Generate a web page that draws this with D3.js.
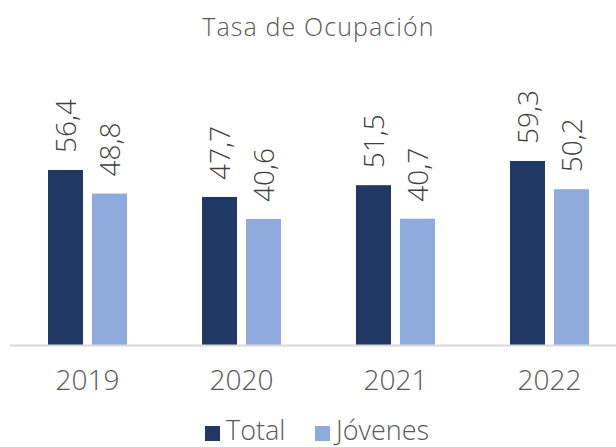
<!DOCTYPE html>
<html><head><meta charset="utf-8">
<script src="https://cdn.jsdelivr.net/npm/d3@7"></script>
<style>
html,body{margin:0;padding:0;background:#fff;}
svg{display:block;font-family:"Open Sans","Noto Sans",sans-serif;font-weight:300;}
</style></head>
<body><svg id="c" width="616" height="447"></svg>
<script>
const years = ["2019","2020","2021","2022"];
const seriesNames = ["Total","Jóvenes"];
const totalValues = [56.4, 47.7, 51.5, 59.3];
const jovenesValues = [48.8, 40.6, 40.7, 50.2];
const colors = ["#203864","#8FAADC"];
const title = "Tasa de Ocupación";

const svg = d3.select("#c");
const baseY = 345;
const x = d3.scaleBand().domain(years).range([10.5, 626.5]).paddingInner(0).paddingOuter(0);
const inner = d3.scaleBand().domain(seriesNames).range([0, 79]).paddingInner(9/44).paddingOuter(0);
const y = d3.scaleLinear().domain([0, 60]).range([baseY, baseY - 186.2]);

const fmt = v => d3.format(".1f")(v).replace(".", ",");
const data = years.map((yr,i)=>({year:yr, vals:[totalValues[i], jovenesValues[i]]}));

svg.append("text").attr("x",318.5).attr("y",36).attr("text-anchor","middle")
  .attr("font-size",25).attr("letter-spacing",1.1).attr("fill","#595959").text(title);

const g = svg.selectAll("g.grp").data(data).join("g").attr("class","grp")
  .attr("transform", d=>`translate(${x(d.year)+ (x.bandwidth()-79)/2},0)`);

g.selectAll("rect").data(d=>d.vals.map((v,j)=>({v, s:seriesNames[j], j})))
  .join("rect")
  .attr("x", d=>inner(d.s)).attr("width", inner.bandwidth())
  .attr("y", d=>y(d.v)).attr("height", d=>baseY - y(d.v))
  .attr("fill", d=>colors[d.j]);

g.selectAll("text.lbl").data(d=>d.vals.map((v,j)=>({v, s:seriesNames[j], j})))
  .join("text").attr("class","lbl")
  .attr("transform", d=>`translate(${inner(d.s)+inner.bandwidth()/2},${y(d.v)-17}) rotate(-90)`)
  .attr("dy","0.36em").attr("font-size",28).attr("fill","#404040")
  .text(d=>fmt(d.v));

// axis
const axis = d3.axisBottom(x).tickSize(0).tickPadding(0);
const ax = svg.append("g").attr("transform",`translate(0,${baseY})`).call(axis)
  .attr("font-family",null).attr("font-size",null);
ax.select(".domain").attr("stroke","#D9D9D9").attr("stroke-width",2).attr("d","M10,0.5H616");
ax.selectAll("text").attr("font-size",28).attr("fill","#595959")
  .attr("dy","0").attr("y",45);

// legend
const leg = svg.append("g");
const legX = [205, 315];
seriesNames.forEach((s,i)=>{
  leg.append("rect").attr("x",legX[i]).attr("y",426).attr("width",15).attr("height",15).attr("fill",colors[i]);
  leg.append("text").attr("x",legX[i]+21).attr("y",440).attr("font-size",27).attr("fill","#595959").text(s);
});
</script></body></html>
